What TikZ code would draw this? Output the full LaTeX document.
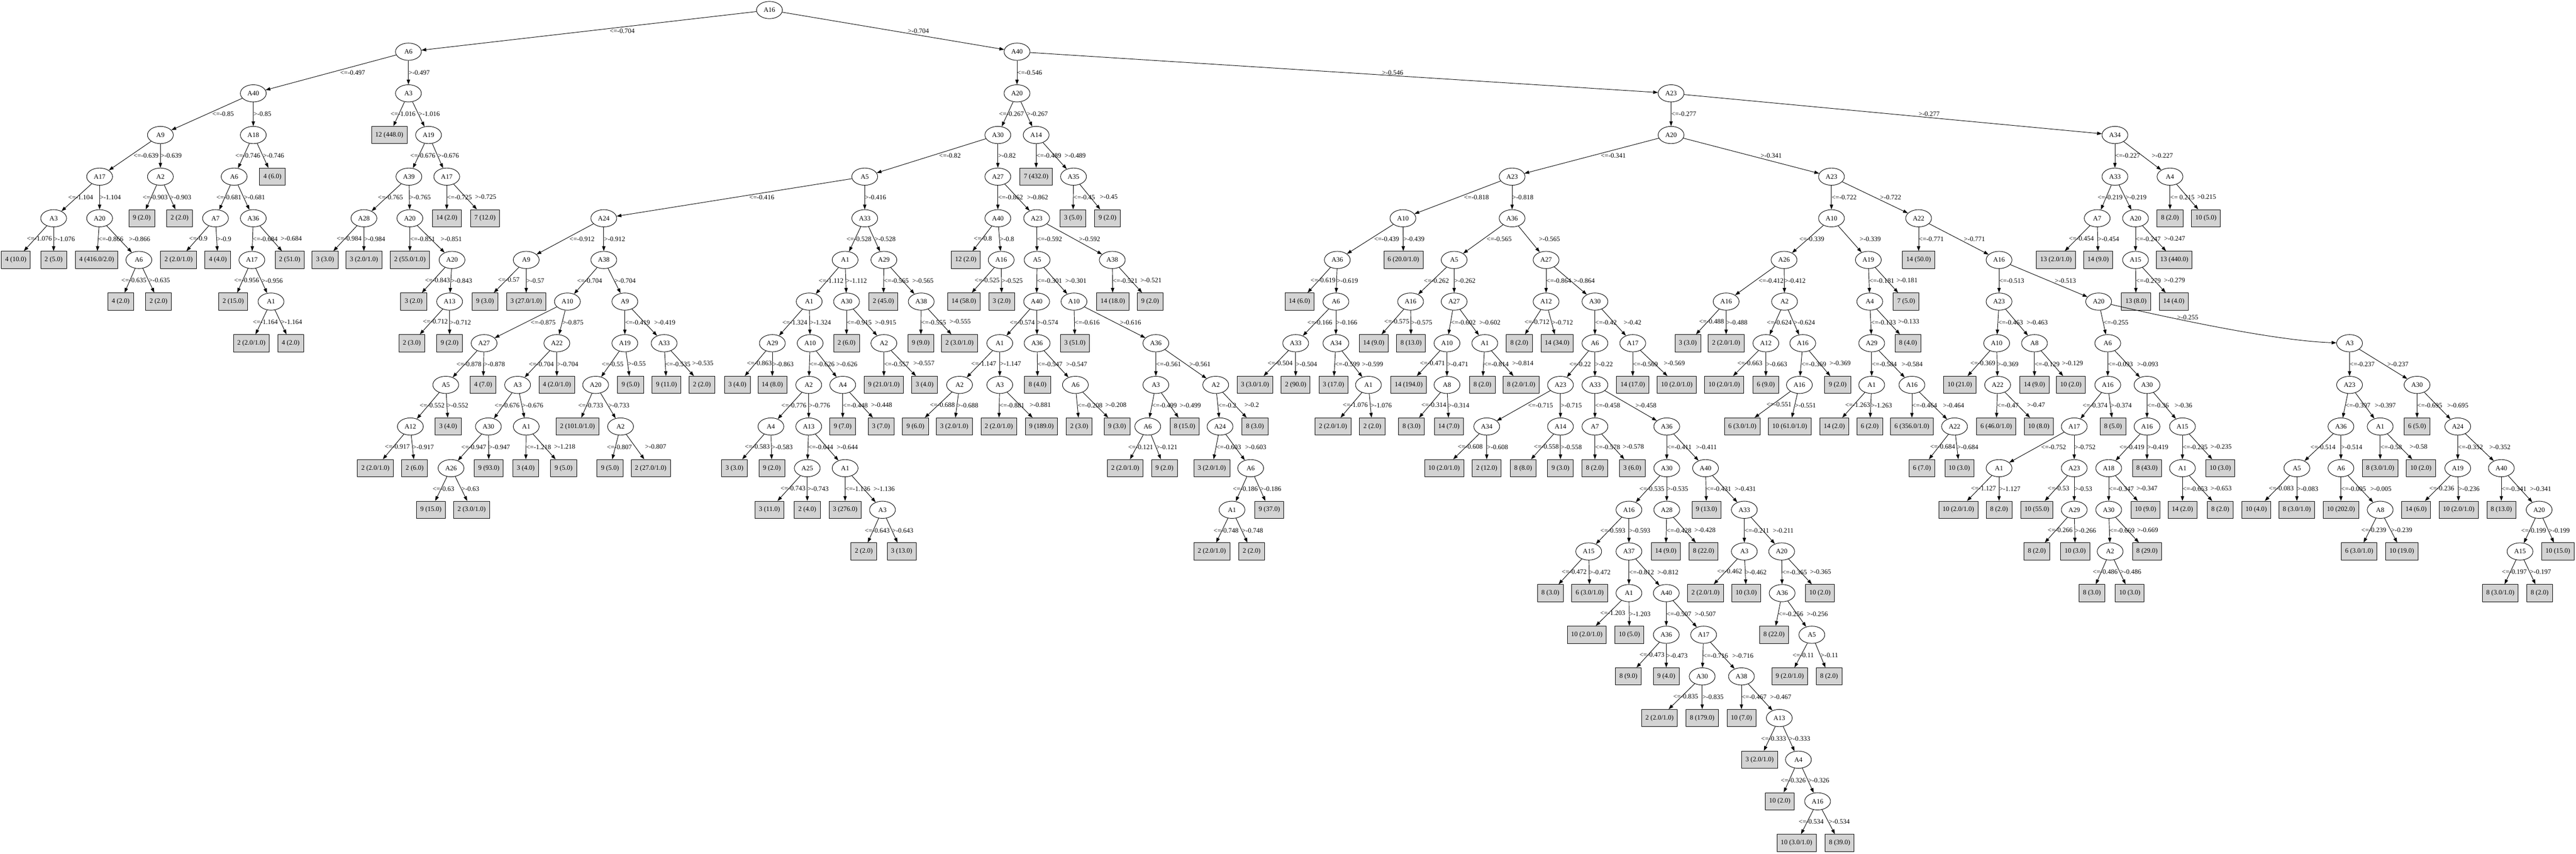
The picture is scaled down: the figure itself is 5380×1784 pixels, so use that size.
\documentclass[tikz,border=0pt]{standalone}
\usepackage{fontspec}
\setmainfont{Liberation Serif}
\usepackage{tikz}
\usetikzlibrary{shapes.geometric, arrows.meta}
\definecolor{leafgray}{HTML}{D3D3D3}
\tikzstyle{attr} = [ellipse, draw=black, line width=1pt,
  minimum width=54pt, minimum height=36pt, inner sep=1pt]
\tikzstyle{leaf} = [rectangle, draw=black, line width=1pt, fill=leafgray,
  minimum width=54pt, minimum height=36pt, inner xsep=8pt, inner ysep=2pt]
\tikzstyle{arrow} = [line width=1pt, -{Triangle[length=10pt, width=7pt]}]
\tikzstyle{cond} = [anchor=west, inner sep=0pt]
\tikzstyle{condl} = [cond, xshift=-18pt]
\tikzstyle{condr} = [cond, xshift=20pt]

\begin{document}
\begin{tikzpicture}[x=1pt, y=1pt, node distance=87pt,
  font=\fontsize{14pt}{16pt}\selectfont]
\useasboundingbox (0,0) rectangle (5380,-1784);

%% nodes
\node (a16-0) [attr] at (1607,-21) {A16};
\node (a6-1) [attr, below of=a16-0, xshift=-754pt] {A6};
\node (a40-1) [attr, below of=a16-0, xshift=517pt] {A40};
\node (a40-2) [attr, below of=a6-1, xshift=-324pt] {A40};
\node (a3-2) [attr, below of=a6-1] {A3};
\node (a20-2) [attr, below of=a40-1] {A20};
\node (a23-2) [attr, below of=a40-1, xshift=1366pt] {A23};
\node (a9-3) [attr, below of=a40-2, xshift=-194pt] {A9};
\node (a18-3) [attr, below of=a40-2] {A18};
\node (leaf1) [leaf, below of=a3-2, xshift=-40pt] {12 (448.0)};
\node (a19-3) [attr, below of=a3-2, xshift=42pt] {A19};
\node (a30-3) [attr, below of=a20-2, xshift=-40pt] {A30};
\node (a14-3) [attr, below of=a20-2, xshift=40pt] {A14};
\node (a20-3) [attr, below of=a23-2] {A20};
\node (a34-3) [attr, below of=a23-2, xshift=927pt] {A34};
\node (a17-4a) [attr, below of=a9-3, xshift=-127pt] {A17};
\node (a2-4) [attr, below of=a9-3] {A2};
\node (a6-4) [attr, below of=a18-3, xshift=-40pt] {A6};
\node (leaf2) [leaf, below of=a18-3, xshift=40pt] {4 (6.0)};
\node (a39-4) [attr, below of=a19-3, xshift=-41pt] {A39};
\node (a17-4b) [attr, below of=a19-3, xshift=38pt] {A17};
\node (a5-4) [attr, below of=a30-3, xshift=-278pt] {A5};
\node (a27-4) [attr, below of=a30-3] {A27};
\node (leaf3) [leaf, below of=a14-3] {7 (432.0)};
\node (a35-4) [attr, below of=a14-3, xshift=78pt] {A35};
\node (a23-4a) [attr, below of=a20-3, xshift=-332pt] {A23};
\node (a23-4b) [attr, below of=a20-3, xshift=335pt] {A23};
\node (a33-4) [attr, below of=a34-3] {A33};
\node (a4-4) [attr, below of=a34-3, xshift=115pt] {A4};
\node (a3-5) [attr, below of=a17-4a, xshift=-96pt] {A3};
\node (a20-5a) [attr, below of=a17-4a] {A20};
\node (leaf4) [leaf, below of=a2-4, xshift=-39pt] {9 (2.0)};
\node (leaf5) [leaf, below of=a2-4, xshift=40pt] {2 (2.0)};
\node (a7-5a) [attr, below of=a6-4, xshift=-39pt] {A7};
\node (a36-5a) [attr, below of=a6-4, xshift=40pt] {A36};
\node (a28-5) [attr, below of=a39-4, xshift=-94pt] {A28};
\node (a20-5b) [attr, below of=a39-4, xshift=2pt] {A20};
\node (leaf6) [leaf, below of=a17-4b] {14 (2.0)};
\node (leaf7) [leaf, below of=a17-4b, xshift=80pt] {7 (12.0)};
\node (a24-5) [attr, below of=a5-4, xshift=-545pt] {A24};
\node (a33-5) [attr, below of=a5-4] {A33};
\node (a40-5) [attr, below of=a27-4] {A40};
\node (a23-5) [attr, below of=a27-4, xshift=81pt] {A23};
\node (leaf8) [leaf, below of=a35-4, xshift=-1pt] {3 (5.0)};
\node (leaf9) [leaf, below of=a35-4, xshift=71pt] {9 (2.0)};
\node (a10-5a) [attr, below of=a23-4a, xshift=-228pt] {A10};
\node (a36-5b) [attr, below of=a23-4a] {A36};
\node (a10-5b) [attr, below of=a23-4b] {A10};
\node (a22-5) [attr, below of=a23-4b, xshift=182pt] {A22};
\node (a7-5b) [attr, below of=a33-4, xshift=-37pt] {A7};
\node (a20-5c) [attr, below of=a33-4, xshift=43pt] {A20};
\node (leaf10) [leaf, below of=a4-4] {8 (2.0)};
\node (leaf11) [leaf, below of=a4-4, xshift=75pt] {10 (5.0)};
\node (leaf12) [leaf, below of=a3-5, xshift=-79pt] {4 (10.0)};
\node (leaf13) [leaf, below of=a3-5] {2 (5.0)};
\node (leaf14) [leaf, below of=a20-5a, xshift=-6pt] {4 (416.0/2.0)};
\node (a6-6) [attr, below of=a20-5a, xshift=82pt] {A6};
\node (leaf15) [leaf, below of=a7-5a, xshift=-77pt] {2 (2.0/1.0)};
\node (leaf16) [leaf, below of=a7-5a, xshift=5pt] {4 (4.0)};
\node (a17-6) [attr, below of=a36-5a, xshift=-3pt] {A17};
\node (leaf17) [leaf, below of=a36-5a, xshift=76pt] {2 (51.0)};
\node (leaf18) [leaf, below of=a28-5, xshift=-81pt] {3 (3.0)};
\node (leaf19) [leaf, below of=a28-5] {3 (2.0/1.0)};
\node (leaf20) [leaf, below of=a20-5b] {2 (55.0/1.0)};
\node (a20-6) [attr, below of=a20-5b, xshift=88pt] {A20};
\node (a9-6) [attr, below of=a24-5, xshift=-162pt] {A9};
\node (a38-6a) [attr, below of=a24-5] {A38};
\node (a1-6) [attr, below of=a33-5, xshift=-41pt] {A1};
\node (a29-6) [attr, below of=a33-5, xshift=40pt] {A29};
\node (leaf21) [leaf, below of=a40-5, xshift=-67pt] {12 (2.0)};
\node (a16-6a) [attr, below of=a40-5, xshift=7pt] {A16};
\node (a5-6a) [attr, below of=a23-5, xshift=1pt] {A5};
\node (a38-6b) [attr, below of=a23-5, xshift=158pt] {A38};
\node (a36-6) [attr, below of=a10-5a, xshift=-137pt] {A36};
\node (leaf22) [leaf, below of=a10-5a, xshift=1pt] {6 (20.0/1.0)};
\node (a5-6b) [attr, below of=a36-5b, xshift=-121pt] {A5};
\node (a27-6) [attr, below of=a36-5b, xshift=71pt] {A27};
\node (a26-6) [attr, below of=a10-5b, xshift=-99pt] {A26};
\node (a19-6) [attr, below of=a10-5b, xshift=77pt] {A19};
\node (leaf23) [leaf, below of=a22-5] {14 (50.0)};
\node (a16-6b) [attr, below of=a22-5, xshift=168pt] {A16};
\node (leaf24) [leaf, below of=a7-5b, xshift=-86pt] {13 (2.0/1.0)};
\node (leaf25) [leaf, below of=a7-5b, xshift=2pt] {14 (9.0)};
\node (a15-6) [attr, below of=a20-5c] {A15};
\node (leaf26) [leaf, below of=a20-5c, xshift=81pt] {13 (440.0)};
\node (leaf27) [leaf, below of=a6-6, xshift=-38pt] {4 (2.0)};
\node (leaf28) [leaf, below of=a6-6, xshift=41pt] {2 (2.0)};
\node (leaf29) [leaf, below of=a17-6, xshift=-39pt] {2 (15.0)};
\node (a1-7a) [attr, below of=a17-6, xshift=40pt] {A1};
\node (leaf30) [leaf, below of=a20-6, xshift=-80pt] {3 (2.0)};
\node (a13-7) [attr, below of=a20-6, xshift=-5pt] {A13};
\node (leaf31) [leaf, below of=a9-6, xshift=-86pt] {9 (3.0)};
\node (leaf32) [leaf, below of=a9-6] {3 (27.0/1.0)};
\node (a10-7a) [attr, below of=a38-6a, xshift=-76pt] {A10};
\node (a9-7) [attr, below of=a38-6a, xshift=44pt] {A9};
\node (a1-7b) [attr, below of=a1-6, xshift=-75pt] {A1};
\node (a30-7a) [attr, below of=a1-6, xshift=3pt] {A30};
\node (leaf33) [leaf, below of=a29-6, xshift=-1pt] {2 (45.0)};
\node (a38-7) [attr, below of=a29-6, xshift=78pt] {A38};
\node (leaf34) [leaf, below of=a16-6a, xshift=-78pt] {14 (58.0)};
\node (leaf35) [leaf, below of=a16-6a, xshift=1pt] {3 (2.0)};
\node (a40-7) [attr, below of=a5-6a, xshift=-1pt] {A40};
\node (a10-7b) [attr, below of=a5-6a, xshift=77pt] {A10};
\node (leaf36) [leaf, below of=a38-6b, xshift=1pt] {14 (18.0)};
\node (leaf37) [leaf, below of=a38-6b, xshift=79pt] {9 (2.0)};
\node (leaf38) [leaf, below of=a36-6, xshift=-79pt] {14 (6.0)};
\node (a6-7) [attr, below of=a36-6, xshift=-3pt] {A6};
\node (a16-7a) [attr, below of=a5-6b, xshift=-91pt] {A16};
\node (a27-7) [attr, below of=a5-6b] {A27};
\node (a12-7) [attr, below of=a27-6] {A12};
\node (a30-7b) [attr, below of=a27-6, xshift=102pt] {A30};
\node (a16-7b) [attr, below of=a26-6, xshift=-121pt] {A16};
\node (a2-7) [attr, below of=a26-6, xshift=1pt] {A2};
\node (a4-7) [attr, below of=a19-6, xshift=3pt] {A4};
\node (leaf39) [leaf, below of=a19-6, xshift=79pt] {7 (5.0)};
\node (a23-7) [attr, below of=a16-6b] {A23};
\node (a20-7) [attr, below of=a16-6b, xshift=208pt] {A20};
\node (leaf40) [leaf, below of=a15-6, xshift=1pt] {13 (8.0)};
\node (leaf41) [leaf, below of=a15-6, xshift=80pt] {14 (4.0)};
\node (leaf42) [leaf, below of=a1-7a, xshift=-41pt] {2 (2.0/1.0)};
\node (leaf43) [leaf, below of=a1-7a, xshift=41pt] {4 (2.0)};
\node (leaf44) [leaf, below of=a13-7, xshift=-79pt] {2 (3.0)};
\node (leaf45) [leaf, below of=a13-7] {9 (2.0)};
\node (a27-8) [attr, below of=a10-7a, xshift=-174pt] {A27};
\node (a22-8) [attr, below of=a10-7a, xshift=-22pt] {A22};
\node (a19-8) [attr, below of=a9-7] {A19};
\node (a33-8a) [attr, below of=a9-7, xshift=82pt] {A33};
\node (a29-8a) [attr, below of=a1-7b, xshift=-77pt] {A29};
\node (a10-8a) [attr, below of=a1-7b, xshift=2pt] {A10};
\node (leaf46) [leaf, below of=a30-7a] {2 (6.0)};
\node (a2-8) [attr, below of=a30-7a, xshift=78pt] {A2};
\node (leaf47) [leaf, below of=a38-7, xshift=-1pt] {9 (9.0)};
\node (leaf48) [leaf, below of=a38-7, xshift=80pt] {2 (3.0/1.0)};
\node (a1-8a) [attr, below of=a40-7, xshift=-77pt] {A1};
\node (a36-8a) [attr, below of=a40-7, xshift=1pt] {A36};
\node (leaf49) [leaf, below of=a10-7b, xshift=2pt] {3 (51.0)};
\node (a36-8b) [attr, below of=a10-7b, xshift=171pt] {A36};
\node (a33-8b) [attr, below of=a6-7, xshift=-84pt] {A33};
\node (a34-8) [attr, below of=a6-7] {A34};
\node (leaf50) [leaf, below of=a16-7a, xshift=-77pt] {14 (9.0)};
\node (leaf51) [leaf, below of=a16-7a, xshift=1pt] {8 (13.0)};
\node (a10-8b) [attr, below of=a27-7, xshift=-15pt] {A10};
\node (a1-8b) [attr, below of=a27-7, xshift=64pt] {A1};
\node (leaf52) [leaf, below of=a12-7, xshift=-56pt] {8 (2.0)};
\node (leaf53) [leaf, below of=a12-7, xshift=23pt] {14 (34.0)};
\node (a6-8a) [attr, below of=a30-7b] {A6};
\node (a17-8) [attr, below of=a30-7b, xshift=79pt] {A17};
\node (leaf54) [leaf, below of=a16-7b, xshift=-80pt] {3 (3.0)};
\node (leaf55) [leaf, below of=a16-7b] {2 (2.0/1.0)};
\node (a12-8) [attr, below of=a2-7, xshift=-39pt] {A12};
\node (a16-8) [attr, below of=a2-7, xshift=38pt] {A16};
\node (a29-8b) [attr, below of=a4-7, xshift=4pt] {A29};
\node (leaf56) [leaf, below of=a4-7, xshift=80pt] {8 (4.0)};
\node (a10-8c) [attr, below of=a23-7, xshift=-5pt] {A10};
\node (a8-8) [attr, below of=a23-7, xshift=74pt] {A8};
\node (a6-8b) [attr, below of=a20-7, xshift=19pt] {A6};
\node (a3-8) [attr, below of=a20-7, xshift=524pt] {A3};
\node (a5-9) [attr, below of=a27-8, xshift=-80pt] {A5};
\node (leaf57) [leaf, below of=a27-8, xshift=-2pt] {4 (7.0)};
\node (a3-9a) [attr, below of=a22-8, xshift=-82pt] {A3};
\node (leaf58) [leaf, below of=a22-8] {4 (2.0/1.0)};
\node (a20-9) [attr, below of=a19-8, xshift=-61pt] {A20};
\node (leaf59) [leaf, below of=a19-8, xshift=12pt] {9 (5.0)};
\node (leaf60) [leaf, below of=a33-8a, xshift=5pt] {9 (11.0)};
\node (leaf61) [leaf, below of=a33-8a, xshift=79pt] {2 (2.0)};
\node (leaf62) [leaf, below of=a29-8a, xshift=-73pt] {3 (4.0)};
\node (leaf63) [leaf, below of=a29-8a] {14 (8.0)};
\node (a2-9a) [attr, below of=a10-8a, xshift=-3pt] {A2};
\node (a4-9) [attr, below of=a10-8a, xshift=68pt] {A4};
\node (leaf64) [leaf, below of=a2-8] {9 (21.0/1.0)};
\node (leaf65) [leaf, below of=a2-8, xshift=85pt] {3 (4.0)};
\node (a2-9b) [attr, below of=a1-8a, xshift=-84pt] {A2};
\node (a3-9b) [attr, below of=a1-8a] {A3};
\node (leaf66) [leaf, below of=a36-8a, xshift=1pt] {8 (4.0)};
\node (a6-9) [attr, below of=a36-8a, xshift=80pt] {A6};
\node (a3-9c) [attr, below of=a36-8b] {A3};
\node (a2-9c) [attr, below of=a36-8b, xshift=125pt] {A2};
\node (leaf67) [leaf, below of=a33-8b, xshift=-85pt] {3 (3.0/1.0)};
\node (leaf68) [leaf, below of=a33-8b] {2 (90.0)};
\node (leaf69) [leaf, below of=a34-8, xshift=-5pt] {3 (17.0)};
\node (a1-9a) [attr, below of=a34-8, xshift=68pt] {A1};
\node (leaf70) [leaf, below of=a10-8b, xshift=-80pt] {14 (194.0)};
\node (a8-9) [attr, below of=a10-8b] {A8};
\node (leaf71) [leaf, below of=a1-8b, xshift=-5pt] {8 (2.0)};
\node (leaf72) [leaf, below of=a1-8b, xshift=76pt] {8 (2.0/1.0)};
\node (a23-9a) [attr, below of=a6-8a, xshift=-72pt] {A23};
\node (a33-9) [attr, below of=a6-8a] {A33};
\node (leaf73) [leaf, below of=a17-8] {14 (17.0)};
\node (leaf74) [leaf, below of=a17-8, xshift=92pt] {10 (2.0/1.0)};
\node (leaf75) [leaf, below of=a12-8, xshift=-87pt] {10 (2.0/1.0)};
\node (leaf76) [leaf, below of=a12-8] {6 (9.0)};
\node (a16-9a) [attr, below of=a16-8, xshift=-7pt] {A16};
\node (leaf77) [leaf, below of=a16-8, xshift=73pt] {9 (2.0)};
\node (a1-9b) [attr, below of=a29-8b] {A1};
\node (a16-9b) [attr, below of=a29-8b, xshift=84pt] {A16};
\node (leaf78) [leaf, below of=a10-8c, xshift=-77pt] {10 (21.0)};
\node (a22-9) [attr, below of=a10-8c, xshift=2pt] {A22};
\node (leaf79) [leaf, below of=a8-8] {14 (9.0)};
\node (leaf80) [leaf, below of=a8-8, xshift=76pt] {10 (2.0)};
\node (a16-9c) [attr, below of=a6-8b] {A16};
\node (a30-9a) [attr, below of=a6-8b, xshift=82pt] {A30};
\node (a23-9b) [attr, below of=a3-8] {A23};
\node (a30-9b) [attr, below of=a3-8, xshift=141pt] {A30};
\node (a12-10) [attr, below of=a5-9, xshift=-74pt] {A12};
\node (leaf81) [leaf, below of=a5-9, xshift=5pt] {3 (4.0)};
\node (a30-10a) [attr, below of=a3-9a, xshift=-61pt] {A30};
\node (a1-10a) [attr, below of=a3-9a, xshift=18pt] {A1};
\node (leaf82) [leaf, below of=a20-9, xshift=-38pt] {2 (101.0/1.0)};
\node (a2-10) [attr, below of=a20-9, xshift=52pt] {A2};
\node (a4-10) [attr, below of=a2-9a, xshift=-79pt] {A4};
\node (a13-10) [attr, below of=a2-9a] {A13};
\node (leaf83) [leaf, below of=a4-9] {9 (7.0)};
\node (leaf84) [leaf, below of=a4-9, xshift=80pt] {3 (7.0)};
\node (leaf85) [leaf, below of=a2-9b, xshift=-92pt] {9 (6.0)};
\node (leaf86) [leaf, below of=a2-9b, xshift=-11pt] {3 (2.0/1.0)};
\node (leaf87) [leaf, below of=a3-9b, xshift=-2pt] {2 (2.0/1.0)};
\node (leaf88) [leaf, below of=a3-9b, xshift=87pt] {9 (189.0)};
\node (leaf89) [leaf, below of=a6-9, xshift=8pt] {2 (3.0)};
\node (leaf90) [leaf, below of=a6-9, xshift=87pt] {9 (3.0)};
\node (a6-10) [attr, below of=a3-9c, xshift=-17pt] {A6};
\node (leaf91) [leaf, below of=a3-9c, xshift=60pt] {8 (15.0)};
\node (a24-10a) [attr, below of=a2-9c, xshift=9pt] {A24};
\node (leaf92) [leaf, below of=a2-9c, xshift=82pt] {8 (3.0)};
\node (leaf93) [leaf, below of=a1-9a, xshift=-74pt] {2 (2.0/1.0)};
\node (leaf94) [leaf, below of=a1-9a, xshift=8pt] {2 (2.0)};
\node (leaf95) [leaf, below of=a8-9, xshift=-74pt] {8 (3.0)};
\node (leaf96) [leaf, below of=a8-9, xshift=4pt] {14 (7.0)};
\node (a34-10) [attr, below of=a23-9a, xshift=-154pt] {A34};
\node (a14-10) [attr, below of=a23-9a] {A14};
\node (a7-10) [attr, below of=a33-9] {A7};
\node (a36-10a) [attr, below of=a33-9, xshift=150pt] {A36};
\node (leaf97) [leaf, below of=a16-9a, xshift=-119pt] {6 (3.0/1.0)};
\node (leaf98) [leaf, below of=a16-9a, xshift=-20pt] {10 (61.0/1.0)};
\node (leaf99) [leaf, below of=a1-9b, xshift=-78pt] {14 (2.0)};
\node (leaf100) [leaf, below of=a1-9b, xshift=-4pt] {6 (2.0)};
\node (leaf101) [leaf, below of=a16-9b] {6 (356.0/1.0)};
\node (a22-10) [attr, below of=a16-9b, xshift=89pt] {A22};
\node (leaf102) [leaf, below of=a22-9, xshift=-3pt] {6 (46.0/1.0)};
\node (leaf103) [leaf, below of=a22-9, xshift=86pt] {10 (8.0)};
\node (a17-10) [attr, below of=a16-9c, xshift=-70pt] {A17};
\node (leaf104) [leaf, below of=a16-9c, xshift=11pt] {8 (5.0)};
\node (a16-10) [attr, below of=a30-9a] {A16};
\node (a15-10) [attr, below of=a30-9a, xshift=74pt] {A15};
\node (a36-10b) [attr, below of=a23-9b, xshift=-18pt] {A36};
\node (a1-10b) [attr, below of=a23-9b, xshift=64pt] {A1};
\node (leaf105) [leaf, below of=a30-9b] {6 (5.0)};
\node (a24-10b) [attr, below of=a30-9b, xshift=85pt] {A24};
\node (leaf106) [leaf, below of=a12-10, xshift=-73pt] {2 (2.0/1.0)};
\node (leaf107) [leaf, below of=a12-10, xshift=9pt] {2 (6.0)};
\node (a26-11) [attr, below of=a30-10a, xshift=-78pt] {A26};
\node (leaf108) [leaf, below of=a30-10a, xshift=1pt] {9 (93.0)};
\node (leaf109) [leaf, below of=a1-10a, xshift=-1pt] {3 (4.0)};
\node (leaf110) [leaf, below of=a1-10a, xshift=78pt] {9 (5.0)};
\node (leaf111) [leaf, below of=a2-10, xshift=-22pt] {9 (5.0)};
\node (leaf112) [leaf, below of=a2-10, xshift=63pt] {2 (27.0/1.0)};
\node (leaf113) [leaf, below of=a4-10, xshift=-76pt] {3 (3.0)};
\node (leaf114) [leaf, below of=a4-10, xshift=2pt] {9 (2.0)};
\node (a25-11) [attr, below of=a13-10, xshift=-3pt] {A25};
\node (a1-11a) [attr, below of=a13-10, xshift=76pt] {A1};
\node (leaf115) [leaf, below of=a6-10, xshift=-47pt] {2 (2.0/1.0)};
\node (leaf116) [leaf, below of=a6-10, xshift=35pt] {9 (2.0)};
\node (leaf117) [leaf, below of=a24-10a, xshift=-17pt] {3 (2.0/1.0)};
\node (a6-11a) [attr, below of=a24-10a, xshift=64pt] {A6};
\node (leaf118) [leaf, below of=a34-10, xshift=-89pt] {10 (2.0/1.0)};
\node (leaf119) [leaf, below of=a34-10] {2 (12.0)};
\node (leaf120) [leaf, below of=a14-10, xshift=-78pt] {8 (8.0)};
\node (leaf121) [leaf, below of=a14-10] {9 (3.0)};
\node (leaf122) [leaf, below of=a7-10] {8 (2.0)};
\node (leaf123) [leaf, below of=a7-10, xshift=78pt] {3 (6.0)};
\node (a30-11) [attr, below of=a36-10a] {A30};
\node (a40-11a) [attr, below of=a36-10a, xshift=81pt] {A40};
\node (leaf124) [leaf, below of=a22-10, xshift=-68pt] {6 (7.0)};
\node (leaf125) [leaf, below of=a22-10, xshift=10pt] {10 (3.0)};
\node (a1-11b) [attr, below of=a17-10, xshift=-157pt] {A1};
\node (a23-11) [attr, below of=a17-10] {A23};
\node (a18-11) [attr, below of=a16-10, xshift=-80pt] {A18};
\node (leaf126) [leaf, below of=a16-10] {8 (43.0)};
\node (a1-11c) [attr, below of=a15-10] {A1};
\node (leaf127) [leaf, below of=a15-10, xshift=79pt] {10 (3.0)};
\node (a5-11) [attr, below of=a36-10b, xshift=-92pt] {A5};
\node (a6-11b) [attr, below of=a36-10b] {A6};
\node (leaf128) [leaf, below of=a1-10b] {8 (3.0/1.0)};
\node (leaf129) [leaf, below of=a1-10b, xshift=85pt] {10 (2.0)};
\node (a19-11) [attr, below of=a24-10b] {A19};
\node (a40-11b) [attr, below of=a24-10b, xshift=91pt] {A40};
\node (leaf130) [leaf, below of=a26-11, xshift=-42pt] {9 (15.0)};
\node (leaf131) [leaf, below of=a26-11, xshift=43pt] {2 (3.0/1.0)};
\node (leaf132) [leaf, below of=a25-11, xshift=-79pt] {3 (11.0)};
\node (leaf133) [leaf, below of=a25-11] {2 (4.0)};
\node (leaf134) [leaf, below of=a1-11a] {3 (276.0)};
\node (a3-12) [attr, below of=a1-11a, xshift=78pt] {A3};
\node (a1-12) [attr, below of=a6-11a, xshift=-39pt] {A1};
\node (leaf135) [leaf, below of=a6-11a, xshift=39pt] {9 (37.0)};
\node (a16-12) [attr, below of=a30-11, xshift=-79pt] {A16};
\node (a28-12) [attr, below of=a30-11] {A28};
\node (leaf136) [leaf, below of=a40-11a, xshift=2pt] {9 (13.0)};
\node (a33-12) [attr, below of=a40-11a, xshift=81pt] {A33};
\node (leaf137) [leaf, below of=a1-11b, xshift=-85pt] {10 (2.0/1.0)};
\node (leaf138) [leaf, below of=a1-11b] {8 (2.0)};
\node (leaf139) [leaf, below of=a23-11, xshift=-78pt] {10 (55.0)};
\node (a29-12) [attr, below of=a23-11] {A29};
\node (a30-12) [attr, below of=a18-11] {A30};
\node (leaf140) [leaf, below of=a18-11, xshift=77pt] {10 (9.0)};
\node (leaf141) [leaf, below of=a1-11c] {14 (2.0)};
\node (leaf142) [leaf, below of=a1-11c, xshift=79pt] {8 (2.0)};
\node (leaf143) [leaf, below of=a5-11, xshift=-85pt] {10 (4.0)};
\node (leaf144) [leaf, below of=a5-11] {8 (3.0/1.0)};
\node (leaf145) [leaf, below of=a6-11b] {10 (202.0)};
\node (a8-12) [attr, below of=a6-11b, xshift=82pt] {A8};
\node (leaf146) [leaf, below of=a19-11, xshift=-87pt] {14 (6.0)};
\node (leaf147) [leaf, below of=a19-11, xshift=2pt] {10 (2.0/1.0)};
\node (leaf148) [leaf, below of=a40-11b] {8 (13.0)};
\node (a20-12) [attr, below of=a40-11b, xshift=79pt] {A20};
\node (leaf149) [leaf, below of=a3-12, xshift=-39pt] {2 (2.0)};
\node (leaf150) [leaf, below of=a3-12, xshift=40pt] {3 (13.0)};
\node (leaf151) [leaf, below of=a1-12, xshift=-42pt] {2 (2.0/1.0)};
\node (leaf152) [leaf, below of=a1-12, xshift=41pt] {2 (2.0)};
\node (a15-13a) [attr, below of=a16-12, xshift=-84pt] {A15};
\node (a37-13) [attr, below of=a16-12] {A37};
\node (leaf153) [leaf, below of=a28-12, xshift=-2pt] {14 (9.0)};
\node (leaf154) [leaf, below of=a28-12, xshift=77pt] {8 (22.0)};
\node (a3-13) [attr, below of=a33-12] {A3};
\node (a20-13) [attr, below of=a33-12, xshift=78pt] {A20};
\node (leaf155) [leaf, below of=a29-12, xshift=-78pt] {8 (2.0)};
\node (leaf156) [leaf, below of=a29-12, xshift=2pt] {10 (3.0)};
\node (a2-13) [attr, below of=a30-12, xshift=3pt] {A2};
\node (leaf157) [leaf, below of=a30-12, xshift=80pt] {8 (29.0)};
\node (leaf158) [leaf, below of=a8-12, xshift=-44pt] {6 (3.0/1.0)};
\node (leaf159) [leaf, below of=a8-12, xshift=45pt] {10 (19.0)};
\node (a15-13b) [attr, below of=a20-12, xshift=-40pt] {A15};
\node (leaf160) [leaf, below of=a20-12, xshift=39pt] {10 (15.0)};
\node (leaf161) [leaf, below of=a15-13a, xshift=-80pt] {8 (3.0)};
\node (leaf162) [leaf, below of=a15-13a, xshift=2pt] {6 (3.0/1.0)};
\node (a1-14) [attr, below of=a37-13] {A1};
\node (a40-14) [attr, below of=a37-13, xshift=78pt] {A40};
\node (leaf163) [leaf, below of=a3-13, xshift=-81pt] {2 (2.0/1.0)};
\node (leaf164) [leaf, below of=a3-13, xshift=4pt] {10 (3.0)};
\node (a36-14) [attr, below of=a20-13, xshift=1pt] {A36};
\node (leaf165) [leaf, below of=a20-13, xshift=80pt] {10 (2.0)};
\node (leaf166) [leaf, below of=a2-13, xshift=-38pt] {8 (3.0)};
\node (leaf167) [leaf, below of=a2-13, xshift=41pt] {10 (3.0)};
\node (leaf168) [leaf, below of=a15-13b, xshift=-41pt] {8 (3.0/1.0)};
\node (leaf169) [leaf, below of=a15-13b, xshift=41pt] {8 (2.0)};
\node (leaf170) [leaf, below of=a1-14, xshift=-88pt] {10 (2.0/1.0)};
\node (leaf171) [leaf, below of=a1-14, xshift=1pt] {10 (5.0)};
\node (a36-15) [attr, below of=a40-14] {A36};
\node (a17-15) [attr, below of=a40-14, xshift=78pt] {A17};
\node (leaf172) [leaf, below of=a36-14, xshift=-17pt] {8 (22.0)};
\node (a5-15) [attr, below of=a36-14, xshift=62pt] {A5};
\node (leaf173) [leaf, below of=a36-15, xshift=-79pt] {8 (9.0)};
\node (leaf174) [leaf, below of=a36-15] {9 (4.0)};
\node (a30-16) [attr, below of=a17-15, xshift=-3pt] {A30};
\node (a38-16) [attr, below of=a17-15, xshift=79pt] {A38};
\node (leaf175) [leaf, below of=a5-15, xshift=-46pt] {9 (2.0/1.0)};
\node (leaf176) [leaf, below of=a5-15, xshift=36pt] {8 (2.0)};
\node (leaf177) [leaf, below of=a30-16, xshift=-89pt] {2 (2.0/1.0)};
\node (leaf178) [leaf, below of=a30-16] {8 (179.0)};
\node (leaf179) [leaf, below of=a38-16] {10 (7.0)};
\node (a13-17) [attr, below of=a38-16, xshift=79pt] {A13};
\node (leaf180) [leaf, below of=a13-17, xshift=-41pt] {3 (2.0/1.0)};
\node (a4-18) [attr, below of=a13-17, xshift=40pt] {A4};
\node (leaf181) [leaf, below of=a4-18, xshift=-39pt] {10 (2.0)};
\node (a16-19) [attr, below of=a4-18, xshift=40pt] {A16};
\node (leaf182) [leaf, below of=a16-19, xshift=-44pt] {10 (3.0/1.0)};
\node (leaf183) [leaf, below of=a16-19, xshift=46pt] {8 (39.0)};

%% paths
\draw [arrow] (a16-0) -- node [cond, xshift=43pt] {<=-0.704} (a6-1);
\draw [arrow] (a16-0) -- node [cond, xshift=30pt] {>-0.704} (a40-1);
\draw [arrow] (a6-1) -- node [cond, xshift=19pt] {<=-0.497} (a40-2);
\draw [arrow] (a6-1) -- node [cond] {>-0.497} (a3-2);
\draw [arrow] (a40-1) -- node [cond] {<=-0.546} (a20-2);
\draw [arrow] (a40-1) -- node [cond, xshift=79pt] {>-0.546} (a23-2);
\draw [arrow] (a40-2) -- node [cond, xshift=11pt] {<=-0.85} (a9-3);
\draw [arrow] (a40-2) -- node [cond] {>-0.85} (a18-3);
\draw [arrow] (a3-2) -- node [condl] {<=-1.016} (leaf1);
\draw [arrow] (a3-2) -- node [cond] {>-1.016} (a19-3);
\draw [arrow] (a20-2) -- node [condl] {<=-0.267} (a30-3);
\draw [arrow] (a20-2) -- node [cond] {>-0.267} (a14-3);
\draw [arrow] (a23-2) -- node [cond] {<=-0.277} (a20-3);
\draw [arrow] (a23-2) -- node [cond, xshift=53pt] {>-0.277} (a34-3);
\draw [arrow] (a9-3) -- node [cond, xshift=7pt] {<=-0.639} (a17-4a);
\draw [arrow] (a9-3) -- node [cond] {>-0.639} (a2-4);
\draw [arrow] (a18-3) -- node [condl] {<=-0.746} (a6-4);
\draw [arrow] (a18-3) -- node [cond] {>-0.746} (leaf2);
\draw [arrow] (a19-3) -- node [condl] {<=-0.676} (a39-4);
\draw [arrow] (a19-3) -- node [cond] {>-0.676} (a17-4b);
\draw [arrow] (a30-3) -- node [cond, xshift=16pt] {<=-0.82} (a5-4);
\draw [arrow] (a30-3) -- node [cond] {>-0.82} (a27-4);
\draw [arrow] (a14-3) -- node [cond] {<=-0.489} (leaf3);
\draw [arrow] (a14-3) -- node [condr] {>-0.489} (a35-4);
\draw [arrow] (a20-3) -- node [cond, xshift=19pt] {<=-0.341} (a23-4a);
\draw [arrow] (a20-3) -- node [cond, xshift=19pt] {>-0.341} (a23-4b);
\draw [arrow] (a34-3) -- node [cond] {<=-0.227} (a33-4);
\draw [arrow] (a34-3) -- node [cond, xshift=19pt] {>-0.227} (a4-4);
\draw [arrow] (a17-4a) -- node [condl] {<=-1.104} (a3-5);
\draw [arrow] (a17-4a) -- node [cond] {>-1.104} (a20-5a);
\draw [arrow] (a2-4) -- node [condl] {<=-0.903} (leaf4);
\draw [arrow] (a2-4) -- node [cond] {>-0.903} (leaf5);
\draw [arrow] (a6-4) -- node [condl] {<=-0.681} (a7-5a);
\draw [arrow] (a6-4) -- node [cond] {>-0.681} (a36-5a);
\draw [arrow] (a39-4) -- node [condl] {<=-0.765} (a28-5);
\draw [arrow] (a39-4) -- node [cond] {>-0.765} (a20-5b);
\draw [arrow] (a17-4b) -- node [cond] {<=-0.725} (leaf6);
\draw [arrow] (a17-4b) -- node [condr] {>-0.725} (leaf7);
\draw [arrow] (a5-4) -- node [cond, xshift=31pt] {<=-0.416} (a24-5);
\draw [arrow] (a5-4) -- node [cond] {>-0.416} (a33-5);
\draw [arrow] (a27-4) -- node [cond] {<=-0.862} (a40-5);
\draw [arrow] (a27-4) -- node [condr] {>-0.862} (a23-5);
\draw [arrow] (a35-4) -- node [cond] {<=-0.45} (leaf8);
\draw [arrow] (a35-4) -- node [condr] {>-0.45} (leaf9);
\draw [arrow] (a23-4a) -- node [cond, xshift=13pt] {<=-0.818} (a10-5a);
\draw [arrow] (a23-4a) -- node [cond] {>-0.818} (a36-5b);
\draw [arrow] (a23-4b) -- node [cond] {<=-0.722} (a10-5b);
\draw [arrow] (a23-4b) -- node [cond, xshift=10pt] {>-0.722} (a22-5);
\draw [arrow] (a33-4) -- node [condl] {<=-0.219} (a7-5b);
\draw [arrow] (a33-4) -- node [cond] {>-0.219} (a20-5c);
\draw [arrow] (a4-4) -- node [cond] {<= 0.215} (leaf10);
\draw [arrow] (a4-4) -- node [condr] {>0.215} (leaf11);
\draw [arrow] (a3-5) -- node [condl] {<=-1.076} (leaf12);
\draw [arrow] (a3-5) -- node [cond] {>-1.076} (leaf13);
\draw [arrow] (a20-5a) -- node [cond] {<=-0.866} (leaf14);
\draw [arrow] (a20-5a) -- node [condr] {>-0.866} (a6-6);
\draw [arrow] (a7-5a) -- node [condl] {<=-0.9} (leaf15);
\draw [arrow] (a7-5a) -- node [cond] {>-0.9} (leaf16);
\draw [arrow] (a36-5a) -- node [cond] {<=-0.684} (a17-6);
\draw [arrow] (a36-5a) -- node [condr] {>-0.684} (leaf17);
\draw [arrow] (a28-5) -- node [condl] {<=-0.984} (leaf18);
\draw [arrow] (a28-5) -- node [cond] {>-0.984} (leaf19);
\draw [arrow] (a20-5b) -- node [cond] {<=-0.851} (leaf20);
\draw [arrow] (a20-5b) -- node [condr] {>-0.851} (a20-6);
\draw [arrow] (a24-5) -- node [cond, xshift=9pt] {<=-0.912} (a9-6);
\draw [arrow] (a24-5) -- node [cond] {>-0.912} (a38-6a);
\draw [arrow] (a33-5) -- node [condl] {<=-0.528} (a1-6);
\draw [arrow] (a33-5) -- node [cond] {>-0.528} (a29-6);
\draw [arrow] (a40-5) -- node [condl] {<=-0.8} (leaf21);
\draw [arrow] (a40-5) -- node [cond] {>-0.8} (a16-6a);
\draw [arrow] (a23-5) -- node [cond] {<=-0.592} (a5-6a);
\draw [arrow] (a23-5) -- node [cond, xshift=9pt] {>-0.592} (a38-6b);
\draw [arrow] (a10-5a) -- node [cond, xshift=8pt] {<=-0.439} (a36-6);
\draw [arrow] (a10-5a) -- node [cond] {>-0.439} (leaf22);
\draw [arrow] (a36-5b) -- node [cond, xshift=7pt] {<=-0.565} (a5-6b);
\draw [arrow] (a36-5b) -- node [condr] {>-0.565} (a27-6);
\draw [arrow] (a10-5b) -- node [condl] {<=-0.339} (a26-6);
\draw [arrow] (a10-5b) -- node [condr] {>-0.339} (a19-6);
\draw [arrow] (a22-5) -- node [cond] {<=-0.771} (leaf23);
\draw [arrow] (a22-5) -- node [cond, xshift=10pt] {>-0.771} (a16-6b);
\draw [arrow] (a7-5b) -- node [condl] {<=-0.454} (leaf24);
\draw [arrow] (a7-5b) -- node [cond] {>-0.454} (leaf25);
\draw [arrow] (a20-5c) -- node [cond] {<=-0.247} (a15-6);
\draw [arrow] (a20-5c) -- node [condr] {>-0.247} (leaf26);
\draw [arrow] (a6-6) -- node [condl] {<=-0.635} (leaf27);
\draw [arrow] (a6-6) -- node [cond] {>-0.635} (leaf28);
\draw [arrow] (a17-6) -- node [condl] {<=-0.956} (leaf29);
\draw [arrow] (a17-6) -- node [cond] {>-0.956} (a1-7a);
\draw [arrow] (a20-6) -- node [condl] {<=-0.843} (leaf30);
\draw [arrow] (a20-6) -- node [cond] {>-0.843} (a13-7);
\draw [arrow] (a9-6) -- node [condl] {<=-0.57} (leaf31);
\draw [arrow] (a9-6) -- node [cond] {>-0.57} (leaf32);
\draw [arrow] (a38-6a) -- node [condl] {<=-0.704} (a10-7a);
\draw [arrow] (a38-6a) -- node [cond] {>-0.704} (a9-7);
\draw [arrow] (a1-6) -- node [condl] {<=-1.112} (a1-7b);
\draw [arrow] (a1-6) -- node [cond] {>-1.112} (a30-7a);
\draw [arrow] (a29-6) -- node [cond] {<=-0.565} (leaf33);
\draw [arrow] (a29-6) -- node [condr] {>-0.565} (a38-7);
\draw [arrow] (a16-6a) -- node [condl] {<=-0.525} (leaf34);
\draw [arrow] (a16-6a) -- node [cond] {>-0.525} (leaf35);
\draw [arrow] (a5-6a) -- node [cond] {<=-0.301} (a40-7);
\draw [arrow] (a5-6a) -- node [condr] {>-0.301} (a10-7b);
\draw [arrow] (a38-6b) -- node [cond] {<=-0.521} (leaf36);
\draw [arrow] (a38-6b) -- node [condr] {>-0.521} (leaf37);
\draw [arrow] (a36-6) -- node [condl] {<=-0.619} (leaf38);
\draw [arrow] (a36-6) -- node [cond] {>-0.619} (a6-7);
\draw [arrow] (a5-6b) -- node [condl] {<=-0.262} (a16-7a);
\draw [arrow] (a5-6b) -- node [cond] {>-0.262} (a27-7);
\draw [arrow] (a27-6) -- node [cond] {<=-0.864} (a12-7);
\draw [arrow] (a27-6) -- node [cond, xshift=6pt] {>-0.864} (a30-7b);
\draw [arrow] (a26-6) -- node [cond, xshift=7pt] {<=-0.412} (a16-7b);
\draw [arrow] (a26-6) -- node [cond] {>-0.412} (a2-7);
\draw [arrow] (a19-6) -- node [cond] {<=-0.181} (a4-7);
\draw [arrow] (a19-6) -- node [condr] {>-0.181} (leaf39);
\draw [arrow] (a16-6b) -- node [cond] {<=-0.513} (a23-7);
\draw [arrow] (a16-6b) -- node [cond, xshift=12pt] {>-0.513} (a20-7);
\draw [arrow] (a15-6) -- node [cond] {<=-0.279} (leaf40);
\draw [arrow] (a15-6) -- node [condr] {>-0.279} (leaf41);
\draw [arrow] (a1-7a) -- node [condl] {<=-1.164} (leaf42);
\draw [arrow] (a1-7a) -- node [cond] {>-1.164} (leaf43);
\draw [arrow] (a13-7) -- node [condl] {<=-0.712} (leaf44);
\draw [arrow] (a13-7) -- node [cond] {>-0.712} (leaf45);
\draw [arrow] (a10-7a) -- node [cond, xshift=10pt] {<=-0.875} (a27-8);
\draw [arrow] (a10-7a) -- node [cond] {>-0.875} (a22-8);
\draw [arrow] (a9-7) -- node [cond] {<=-0.419} (a19-8);
\draw [arrow] (a9-7) -- node [condr] {>-0.419} (a33-8a);
\draw [arrow] (a1-7b) -- node [condl] {<=-1.324} (a29-8a);
\draw [arrow] (a1-7b) -- node [cond] {>-1.324} (a10-8a);
\draw [arrow] (a30-7a) -- node [cond] {<=-0.915} (leaf46);
\draw [arrow] (a30-7a) -- node [condr] {>-0.915} (a2-8);
\draw [arrow] (a38-7) -- node [cond] {<=-0.555} (leaf47);
\draw [arrow] (a38-7) -- node [condr] {>-0.555} (leaf48);
\draw [arrow] (a40-7) -- node [condl] {<=-0.574} (a1-8a);
\draw [arrow] (a40-7) -- node [cond] {>-0.574} (a36-8a);
\draw [arrow] (a10-7b) -- node [cond] {<=-0.616} (leaf49);
\draw [arrow] (a10-7b) -- node [cond, xshift=10pt] {>-0.616} (a36-8b);
\draw [arrow] (a6-7) -- node [condl] {<=-0.166} (a33-8b);
\draw [arrow] (a6-7) -- node [cond] {>-0.166} (a34-8);
\draw [arrow] (a16-7a) -- node [condl] {<=-0.575} (leaf50);
\draw [arrow] (a16-7a) -- node [cond] {>-0.575} (leaf51);
\draw [arrow] (a27-7) -- node [cond] {<=-0.602} (a10-8b);
\draw [arrow] (a27-7) -- node [condr] {>-0.602} (a1-8b);
\draw [arrow] (a12-7) -- node [condl] {<=-0.712} (leaf52);
\draw [arrow] (a12-7) -- node [cond] {>-0.712} (leaf53);
\draw [arrow] (a30-7b) -- node [cond] {<=-0.42} (a6-8a);
\draw [arrow] (a30-7b) -- node [condr] {>-0.42} (a17-8);
\draw [arrow] (a16-7b) -- node [condl] {<=-0.488} (leaf54);
\draw [arrow] (a16-7b) -- node [cond] {>-0.488} (leaf55);
\draw [arrow] (a2-7) -- node [condl] {<=-0.624} (a12-8);
\draw [arrow] (a2-7) -- node [cond] {>-0.624} (a16-8);
\draw [arrow] (a4-7) -- node [cond] {<=-0.133} (a29-8b);
\draw [arrow] (a4-7) -- node [condr] {>-0.133} (leaf56);
\draw [arrow] (a23-7) -- node [cond] {<=-0.463} (a10-8c);
\draw [arrow] (a23-7) -- node [condr] {>-0.463} (a8-8);
\draw [arrow] (a20-7) -- node [cond] {<=-0.255} (a6-8b);
\draw [arrow] (a20-7) .. controls +(130,-30) and +(-160,5) .. node [cond, pos=0.3, xshift=15pt] {>-0.255} (a3-8);
\draw [arrow] (a27-8) -- node [condl] {<=-0.878} (a5-9);
\draw [arrow] (a27-8) -- node [cond] {>-0.878} (leaf57);
\draw [arrow] (a22-8) -- node [condl] {<=-0.704} (a3-9a);
\draw [arrow] (a22-8) -- node [cond] {>-0.704} (leaf58);
\draw [arrow] (a19-8) -- node [condl] {<=-0.55} (a20-9);
\draw [arrow] (a19-8) -- node [cond] {>-0.55} (leaf59);
\draw [arrow] (a33-8a) -- node [cond] {<=-0.535} (leaf60);
\draw [arrow] (a33-8a) -- node [condr] {>-0.535} (leaf61);
\draw [arrow] (a29-8a) -- node [condl] {<=-0.863} (leaf62);
\draw [arrow] (a29-8a) -- node [cond] {>-0.863} (leaf63);
\draw [arrow] (a10-8a) -- node [cond] {<=-0.626} (a2-9a);
\draw [arrow] (a10-8a) -- node [condr] {>-0.626} (a4-9);
\draw [arrow] (a2-8) -- node [cond] {<=-0.557} (leaf64);
\draw [arrow] (a2-8) -- node [condr] {>-0.557} (leaf65);
\draw [arrow] (a1-8a) -- node [condl] {<=-1.147} (a2-9b);
\draw [arrow] (a1-8a) -- node [cond] {>-1.147} (a3-9b);
\draw [arrow] (a36-8a) -- node [cond] {<=-0.547} (leaf66);
\draw [arrow] (a36-8a) -- node [condr] {>-0.547} (a6-9);
\draw [arrow] (a36-8b) -- node [cond] {<=-0.561} (a3-9c);
\draw [arrow] (a36-8b) -- node [cond, xshift=7pt] {>-0.561} (a2-9c);
\draw [arrow] (a33-8b) -- node [condl] {<=-0.504} (leaf67);
\draw [arrow] (a33-8b) -- node [cond] {>-0.504} (leaf68);
\draw [arrow] (a34-8) -- node [cond] {<=-0.599} (leaf69);
\draw [arrow] (a34-8) -- node [condr] {>-0.599} (a1-9a);
\draw [arrow] (a10-8b) -- node [condl] {<=-0.471} (leaf70);
\draw [arrow] (a10-8b) -- node [cond] {>-0.471} (a8-9);
\draw [arrow] (a1-8b) -- node [cond] {<=-0.814} (leaf71);
\draw [arrow] (a1-8b) -- node [condr] {>-0.814} (leaf72);
\draw [arrow] (a6-8a) -- node [condl] {<=-0.22} (a23-9a);
\draw [arrow] (a6-8a) -- node [cond] {>-0.22} (a33-9);
\draw [arrow] (a17-8) -- node [cond] {<=-0.569} (leaf73);
\draw [arrow] (a17-8) -- node [condr] {>-0.569} (leaf74);
\draw [arrow] (a12-8) -- node [condl] {<=-0.663} (leaf75);
\draw [arrow] (a12-8) -- node [cond] {>-0.663} (leaf76);
\draw [arrow] (a16-8) -- node [cond] {<=-0.369} (a16-9a);
\draw [arrow] (a16-8) -- node [condr] {>-0.369} (leaf77);
\draw [arrow] (a29-8b) -- node [cond] {<=-0.584} (a1-9b);
\draw [arrow] (a29-8b) -- node [condr] {>-0.584} (a16-9b);
\draw [arrow] (a10-8c) -- node [condl] {<=-0.369} (leaf78);
\draw [arrow] (a10-8c) -- node [cond] {>-0.369} (a22-9);
\draw [arrow] (a8-8) -- node [cond] {<=-0.129} (leaf79);
\draw [arrow] (a8-8) -- node [condr] {>-0.129} (leaf80);
\draw [arrow] (a6-8b) -- node [cond] {<=-0.093} (a16-9c);
\draw [arrow] (a6-8b) -- node [condr] {>-0.093} (a30-9a);
\draw [arrow] (a3-8) -- node [cond] {<=-0.237} (a23-9b);
\draw [arrow] (a3-8) -- node [cond, xshift=8pt] {>-0.237} (a30-9b);
\draw [arrow] (a5-9) -- node [condl] {<=-0.552} (a12-10);
\draw [arrow] (a5-9) -- node [cond] {>-0.552} (leaf81);
\draw [arrow] (a3-9a) -- node [condl] {<=-0.676} (a30-10a);
\draw [arrow] (a3-9a) -- node [cond] {>-0.676} (a1-10a);
\draw [arrow] (a20-9) -- node [condl] {<=-0.733} (leaf82);
\draw [arrow] (a20-9) -- node [cond] {>-0.733} (a2-10);
\draw [arrow] (a2-9a) -- node [condl] {<=-0.776} (a4-10);
\draw [arrow] (a2-9a) -- node [cond] {>-0.776} (a13-10);
\draw [arrow] (a4-9) -- node [cond] {<=-0.448} (leaf83);
\draw [arrow] (a4-9) -- node [condr] {>-0.448} (leaf84);
\draw [arrow] (a2-9b) -- node [condl] {<=-0.688} (leaf85);
\draw [arrow] (a2-9b) -- node [cond] {>-0.688} (leaf86);
\draw [arrow] (a3-9b) -- node [cond] {<=-0.881} (leaf87);
\draw [arrow] (a3-9b) -- node [condr] {>-0.881} (leaf88);
\draw [arrow] (a6-9) -- node [cond] {<=-0.208} (leaf89);
\draw [arrow] (a6-9) -- node [condr] {>-0.208} (leaf90);
\draw [arrow] (a3-9c) -- node [cond] {<=-0.499} (a6-10);
\draw [arrow] (a3-9c) -- node [condr] {>-0.499} (leaf91);
\draw [arrow] (a2-9c) -- node [cond] {<=-0.2} (a24-10a);
\draw [arrow] (a2-9c) -- node [condr] {>-0.2} (leaf92);
\draw [arrow] (a1-9a) -- node [condl] {<=-1.076} (leaf93);
\draw [arrow] (a1-9a) -- node [cond] {>-1.076} (leaf94);
\draw [arrow] (a8-9) -- node [condl] {<=-0.314} (leaf95);
\draw [arrow] (a8-9) -- node [cond] {>-0.314} (leaf96);
\draw [arrow] (a23-9a) -- node [cond, xshift=9pt] {<=-0.715} (a34-10);
\draw [arrow] (a23-9a) -- node [cond] {>-0.715} (a14-10);
\draw [arrow] (a33-9) -- node [cond] {<=-0.458} (a7-10);
\draw [arrow] (a33-9) -- node [cond, xshift=9pt] {>-0.458} (a36-10a);
\draw [arrow] (a16-9a) -- node [cond, xshift=-13pt] {<=-0.551} (leaf97);
\draw [arrow] (a16-9a) -- node [cond] {>-0.551} (leaf98);
\draw [arrow] (a1-9b) -- node [condl] {<=-1.263} (leaf99);
\draw [arrow] (a1-9b) -- node [cond] {>-1.263} (leaf100);
\draw [arrow] (a16-9b) -- node [cond] {<=-0.464} (leaf101);
\draw [arrow] (a16-9b) -- node [condr] {>-0.464} (a22-10);
\draw [arrow] (a22-9) -- node [cond] {<=-0.47} (leaf102);
\draw [arrow] (a22-9) -- node [condr] {>-0.47} (leaf103);
\draw [arrow] (a16-9c) -- node [condl] {<=-0.374} (a17-10);
\draw [arrow] (a16-9c) -- node [cond] {>-0.374} (leaf104);
\draw [arrow] (a30-9a) -- node [cond] {<=-0.36} (a16-10);
\draw [arrow] (a30-9a) -- node [condr] {>-0.36} (a15-10);
\draw [arrow] (a23-9b) -- node [cond] {<=-0.397} (a36-10b);
\draw [arrow] (a23-9b) -- node [condr] {>-0.397} (a1-10b);
\draw [arrow] (a30-9b) -- node [cond] {<=-0.695} (leaf105);
\draw [arrow] (a30-9b) -- node [condr] {>-0.695} (a24-10b);
\draw [arrow] (a12-10) -- node [condl] {<=-0.917} (leaf106);
\draw [arrow] (a12-10) -- node [cond] {>-0.917} (leaf107);
\draw [arrow] (a30-10a) -- node [condl] {<=-0.947} (a26-11);
\draw [arrow] (a30-10a) -- node [cond] {>-0.947} (leaf108);
\draw [arrow] (a1-10a) -- node [cond] {<=-1.218} (leaf109);
\draw [arrow] (a1-10a) -- node [condr] {>-1.218} (leaf110);
\draw [arrow] (a2-10) -- node [condl] {<=-0.807} (leaf111);
\draw [arrow] (a2-10) -- node [condr] {>-0.807} (leaf112);
\draw [arrow] (a4-10) -- node [condl] {<=-0.583} (leaf113);
\draw [arrow] (a4-10) -- node [cond] {>-0.583} (leaf114);
\draw [arrow] (a13-10) -- node [cond] {<=-0.644} (a25-11);
\draw [arrow] (a13-10) -- node [condr] {>-0.644} (a1-11a);
\draw [arrow] (a6-10) -- node [condl] {<=-0.121} (leaf115);
\draw [arrow] (a6-10) -- node [cond] {>-0.121} (leaf116);
\draw [arrow] (a24-10a) -- node [cond] {<=-0.603} (leaf117);
\draw [arrow] (a24-10a) -- node [condr] {>-0.603} (a6-11a);
\draw [arrow] (a34-10) -- node [condl] {<=-0.608} (leaf118);
\draw [arrow] (a34-10) -- node [cond] {>-0.608} (leaf119);
\draw [arrow] (a14-10) -- node [condl] {<=-0.558} (leaf120);
\draw [arrow] (a14-10) -- node [cond] {>-0.558} (leaf121);
\draw [arrow] (a7-10) -- node [cond] {<=-0.578} (leaf122);
\draw [arrow] (a7-10) -- node [condr] {>-0.578} (leaf123);
\draw [arrow] (a36-10a) -- node [cond] {<=-0.411} (a30-11);
\draw [arrow] (a36-10a) -- node [condr] {>-0.411} (a40-11a);
\draw [arrow] (a22-10) -- node [condl] {<=-0.684} (leaf124);
\draw [arrow] (a22-10) -- node [cond] {>-0.684} (leaf125);
\draw [arrow] (a17-10) -- node [cond, xshift=9pt] {<=-0.752} (a1-11b);
\draw [arrow] (a17-10) -- node [cond] {>-0.752} (a23-11);
\draw [arrow] (a16-10) -- node [condl] {<=-0.419} (a18-11);
\draw [arrow] (a16-10) -- node [cond] {>-0.419} (leaf126);
\draw [arrow] (a15-10) -- node [cond] {<=-0.235} (a1-11c);
\draw [arrow] (a15-10) -- node [condr] {>-0.235} (leaf127);
\draw [arrow] (a36-10b) -- node [condl] {<=-0.514} (a5-11);
\draw [arrow] (a36-10b) -- node [cond] {>-0.514} (a6-11b);
\draw [arrow] (a1-10b) -- node [cond] {<=-0.58} (leaf128);
\draw [arrow] (a1-10b) -- node [condr] {>-0.58} (leaf129);
\draw [arrow] (a24-10b) -- node [cond] {<=-0.352} (a19-11);
\draw [arrow] (a24-10b) -- node [condr] {>-0.352} (a40-11b);
\draw [arrow] (a26-11) -- node [condl] {<=-0.63} (leaf130);
\draw [arrow] (a26-11) -- node [cond] {>-0.63} (leaf131);
\draw [arrow] (a25-11) -- node [condl] {<=-0.743} (leaf132);
\draw [arrow] (a25-11) -- node [cond] {>-0.743} (leaf133);
\draw [arrow] (a1-11a) -- node [cond] {<=-1.136} (leaf134);
\draw [arrow] (a1-11a) -- node [condr] {>-1.136} (a3-12);
\draw [arrow] (a6-11a) -- node [condl] {<=-0.186} (a1-12);
\draw [arrow] (a6-11a) -- node [cond] {>-0.186} (leaf135);
\draw [arrow] (a30-11) -- node [condl] {<=-0.535} (a16-12);
\draw [arrow] (a30-11) -- node [cond] {>-0.535} (a28-12);
\draw [arrow] (a40-11a) -- node [cond] {<=-0.431} (leaf136);
\draw [arrow] (a40-11a) -- node [condr] {>-0.431} (a33-12);
\draw [arrow] (a1-11b) -- node [condl] {<=-1.127} (leaf137);
\draw [arrow] (a1-11b) -- node [cond] {>-1.127} (leaf138);
\draw [arrow] (a23-11) -- node [condl] {<=-0.53} (leaf139);
\draw [arrow] (a23-11) -- node [cond] {>-0.53} (a29-12);
\draw [arrow] (a18-11) -- node [cond] {<=-0.347} (a30-12);
\draw [arrow] (a18-11) -- node [condr] {>-0.347} (leaf140);
\draw [arrow] (a1-11c) -- node [cond] {<=-0.653} (leaf141);
\draw [arrow] (a1-11c) -- node [condr] {>-0.653} (leaf142);
\draw [arrow] (a5-11) -- node [condl] {<=-0.083} (leaf143);
\draw [arrow] (a5-11) -- node [cond] {>-0.083} (leaf144);
\draw [arrow] (a6-11b) -- node [cond] {<=-0.005} (leaf145);
\draw [arrow] (a6-11b) -- node [condr] {>-0.005} (a8-12);
\draw [arrow] (a19-11) -- node [condl] {<=-0.236} (leaf146);
\draw [arrow] (a19-11) -- node [cond] {>-0.236} (leaf147);
\draw [arrow] (a40-11b) -- node [cond] {<=-0.341} (leaf148);
\draw [arrow] (a40-11b) -- node [condr] {>-0.341} (a20-12);
\draw [arrow] (a3-12) -- node [condl] {<=-0.643} (leaf149);
\draw [arrow] (a3-12) -- node [cond] {>-0.643} (leaf150);
\draw [arrow] (a1-12) -- node [condl] {<=-0.748} (leaf151);
\draw [arrow] (a1-12) -- node [cond] {>-0.748} (leaf152);
\draw [arrow] (a16-12) -- node [condl] {<=-0.593} (a15-13a);
\draw [arrow] (a16-12) -- node [cond] {>-0.593} (a37-13);
\draw [arrow] (a28-12) -- node [cond] {<=-0.428} (leaf153);
\draw [arrow] (a28-12) -- node [condr] {>-0.428} (leaf154);
\draw [arrow] (a33-12) -- node [cond] {<=-0.211} (a3-13);
\draw [arrow] (a33-12) -- node [condr] {>-0.211} (a20-13);
\draw [arrow] (a29-12) -- node [condl] {<=-0.266} (leaf155);
\draw [arrow] (a29-12) -- node [cond] {>-0.266} (leaf156);
\draw [arrow] (a30-12) -- node [cond] {<=-0.669} (a2-13);
\draw [arrow] (a30-12) -- node [condr] {>-0.669} (leaf157);
\draw [arrow] (a8-12) -- node [condl] {<=-0.239} (leaf158);
\draw [arrow] (a8-12) -- node [cond] {>-0.239} (leaf159);
\draw [arrow] (a20-12) -- node [condl] {<=-0.199} (a15-13b);
\draw [arrow] (a20-12) -- node [cond] {>-0.199} (leaf160);
\draw [arrow] (a15-13a) -- node [condl] {<=-0.472} (leaf161);
\draw [arrow] (a15-13a) -- node [cond] {>-0.472} (leaf162);
\draw [arrow] (a37-13) -- node [cond] {<=-0.812} (a1-14);
\draw [arrow] (a37-13) -- node [condr] {>-0.812} (a40-14);
\draw [arrow] (a3-13) -- node [condl] {<=-0.462} (leaf163);
\draw [arrow] (a3-13) -- node [cond] {>-0.462} (leaf164);
\draw [arrow] (a20-13) -- node [cond] {<=-0.365} (a36-14);
\draw [arrow] (a20-13) -- node [condr] {>-0.365} (leaf165);
\draw [arrow] (a2-13) -- node [condl] {<=-0.486} (leaf166);
\draw [arrow] (a2-13) -- node [cond] {>-0.486} (leaf167);
\draw [arrow] (a15-13b) -- node [condl] {<=-0.197} (leaf168);
\draw [arrow] (a15-13b) -- node [cond] {>-0.197} (leaf169);
\draw [arrow] (a1-14) -- node [condl] {<=-1.203} (leaf170);
\draw [arrow] (a1-14) -- node [cond] {>-1.203} (leaf171);
\draw [arrow] (a40-14) -- node [cond] {<=-0.507} (a36-15);
\draw [arrow] (a40-14) -- node [condr] {>-0.507} (a17-15);
\draw [arrow] (a36-14) -- node [cond] {<=-0.256} (leaf172);
\draw [arrow] (a36-14) -- node [condr] {>-0.256} (a5-15);
\draw [arrow] (a36-15) -- node [condl] {<=-0.473} (leaf173);
\draw [arrow] (a36-15) -- node [cond] {>-0.473} (leaf174);
\draw [arrow] (a17-15) -- node [cond] {<=-0.716} (a30-16);
\draw [arrow] (a17-15) -- node [condr] {>-0.716} (a38-16);
\draw [arrow] (a5-15) -- node [condl] {<=-0.11} (leaf175);
\draw [arrow] (a5-15) -- node [cond] {>-0.11} (leaf176);
\draw [arrow] (a30-16) -- node [condl] {<=-0.835} (leaf177);
\draw [arrow] (a30-16) -- node [cond] {>-0.835} (leaf178);
\draw [arrow] (a38-16) -- node [cond] {<=-0.467} (leaf179);
\draw [arrow] (a38-16) -- node [condr] {>-0.467} (a13-17);
\draw [arrow] (a13-17) -- node [condl] {<=-0.333} (leaf180);
\draw [arrow] (a13-17) -- node [cond] {>-0.333} (a4-18);
\draw [arrow] (a4-18) -- node [condl] {<=-0.326} (leaf181);
\draw [arrow] (a4-18) -- node [cond] {>-0.326} (a16-19);
\draw [arrow] (a16-19) -- node [condl] {<=-0.534} (leaf182);
\draw [arrow] (a16-19) -- node [cond] {>-0.534} (leaf183);

\end{tikzpicture}
\end{document}
